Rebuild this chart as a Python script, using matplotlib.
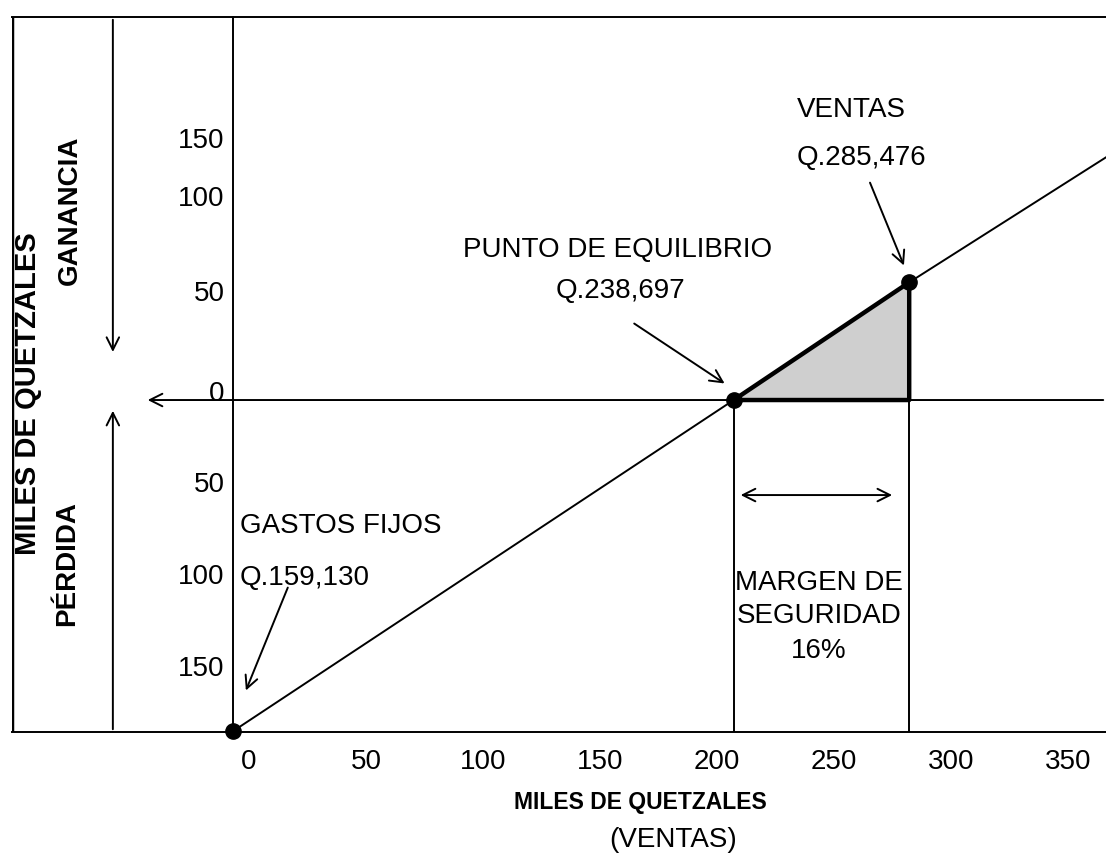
import matplotlib
matplotlib.use("Agg")
import matplotlib.pyplot as plt
import matplotlib.transforms as mtransforms

plt.rcParams['font.family'] = ['Liberation Sans', 'DejaVu Sans']

# ---- data (miles de quetzales) ----
line_x = [0, 214, 289, 373]
line_y = [-183, 0, 65, 134]
fixed_pt = (0, -183)
be_pt = (214, 0)
sales_pt = (289, 65)

x_ticks = [0, 50, 100, 150, 200, 250, 300, 350]
x_ticklabels = ['0', '50', '100', '150', '200', '250', '300', '350']
# the drawing's y labels are not evenly spaced
y_ticks = [140, 108, 55, 0, -50, -101, -152]
y_ticklabels = ['150', '100', '50', '0', '50', '100', '150']

fixed_lines = ['GASTOS FIJOS', 'Q.159,130']
be_lines = ['PUNTO DE EQUILIBRIO', 'Q.238,697']
sales_lines = ['VENTAS', 'Q.285,476']
margin_lines = ['MARGEN DE', 'SEGURIDAD', '16%']

ARROW = dict(arrowstyle='->,head_length=0.9,head_width=0.45', lw=1.4, color='black')

fig = plt.figure(figsize=(11.06, 8.6), dpi=100)
ax = fig.add_axes([12/1106, 128/860, 1094/1106, 715/860])
ax.set_xlim(-94.4, 373.1)
ax.set_ylim(-183.4, 211.6)
xmin, xmax = ax.get_xlim()
ymin, ymax = ax.get_ylim()

# frame / axes
ax.spines['right'].set_visible(False)
ax.spines['left'].set_position(('data', 0))
for s in ['left', 'top', 'bottom']:
    ax.spines[s].set_linewidth(1.4)
ax.axvline(xmin, color='black', lw=2.5)

ax.set_xticks(x_ticks)
ax.set_xticklabels(x_ticklabels, fontsize=20)
ax.set_yticks(y_ticks)
ax.set_yticklabels(y_ticklabels, fontsize=20)
ax.tick_params(axis='x', length=0, pad=12)
ax.tick_params(axis='y', length=0, pad=6)
dx = mtransforms.ScaledTranslation(0.16, 0, fig.dpi_scale_trans)
dy = mtransforms.ScaledTranslation(0, 0.09, fig.dpi_scale_trans)
for lab in ax.get_xticklabels():
    lab.set_transform(lab.get_transform() + dx)
for lab in ax.get_yticklabels():
    lab.set_transform(lab.get_transform() + dy)

# zero line with arrow to the left
ax.annotate('', xy=(-37.6, 0), xytext=(xmax, 0), arrowprops=ARROW)
# ganancia / perdida arrows
ax.annotate('', xy=(-51.3, 25), xytext=(-51.3, ymax), arrowprops=ARROW)
ax.annotate('', xy=(-51.3, -4.4), xytext=(-51.3, ymin), arrowprops=ARROW)

# sales line
ax.plot(line_x, line_y, color='black', lw=1.4)

# margin triangle
ax.fill_between([be_pt[0], sales_pt[0]], [0, 0], [be_pt[1], sales_pt[1]], color='#cfcfcf', lw=0)
ax.plot([be_pt[0], sales_pt[0], sales_pt[0], be_pt[0]],
        [be_pt[1], sales_pt[1], 0, 0], color='black', lw=3.2)

# verticals
ax.plot([be_pt[0], be_pt[0]], [0, ymin], color='black', lw=1.4)
ax.plot([sales_pt[0], sales_pt[0]], [0, ymin], color='black', lw=1.4)

# points
ax.plot([fixed_pt[0], be_pt[0], sales_pt[0]], [fixed_pt[1], be_pt[1], sales_pt[1]],
        'o', color='black', ms=11, clip_on=False)

# margin double arrow
ax.annotate('', xy=(215.8, -52.5), xytext=(282.9, -52.5),
            arrowprops=dict(ARROW, arrowstyle='<->,head_length=0.9,head_width=0.45'))

# labels with arrows
ax.text(3, -69.5, fixed_lines[0], fontsize=20, ha='left', va='center')
ax.text(3, -98.2, fixed_lines[1], fontsize=20, ha='left', va='center')
ax.annotate('', xy=(5.1, -161.9), xytext=(23.9, -102.2), arrowprops=ARROW)

ax.text(164.5, 83, be_lines[0], fontsize=20, ha='center', va='center')
ax.text(165.4, 60.4, be_lines[1], fontsize=20, ha='center', va='center')
ax.annotate('', xy=(211.1, 8.3), xytext=(170.5, 43.1), arrowprops=ARROW)

ax.text(241, 160.4, sales_lines[0], fontsize=20, ha='left', va='center')
ax.text(241, 133.9, sales_lines[1], fontsize=20, ha='left', va='center')
ax.annotate('', xy=(287.2, 72.9), xytext=(271.8, 121.5), arrowprops=ARROW)

for txt, yv in zip(margin_lines, [-100.9, -119.2, -138.5]):
    ax.text(250.5, yv, txt, fontsize=20, ha='center', va='center')

# side titles
ax.text(-87.6, 3.3, 'MILES DE QUETZALES', rotation=90, fontsize=21, fontweight='bold',
        ha='center', va='center')
ax.text(-69.7, 105, 'GANANCIA', rotation=90, fontsize=20, fontweight='bold',
        ha='center', va='center')
ax.text(-70.9, -90.6, 'PÉRDIDA', rotation=90, fontsize=20, fontweight='bold',
        ha='center', va='center')

fig.text(640/1106, 1 - 803/860, 'MILES DE QUETZALES', fontsize=16.5, fontweight='bold',
         ha='center', va='center')
fig.text(673/1106, 1 - 840/860, '(VENTAS)', fontsize=20, ha='center', va='center')

fig.savefig('out.png', dpi=100)
